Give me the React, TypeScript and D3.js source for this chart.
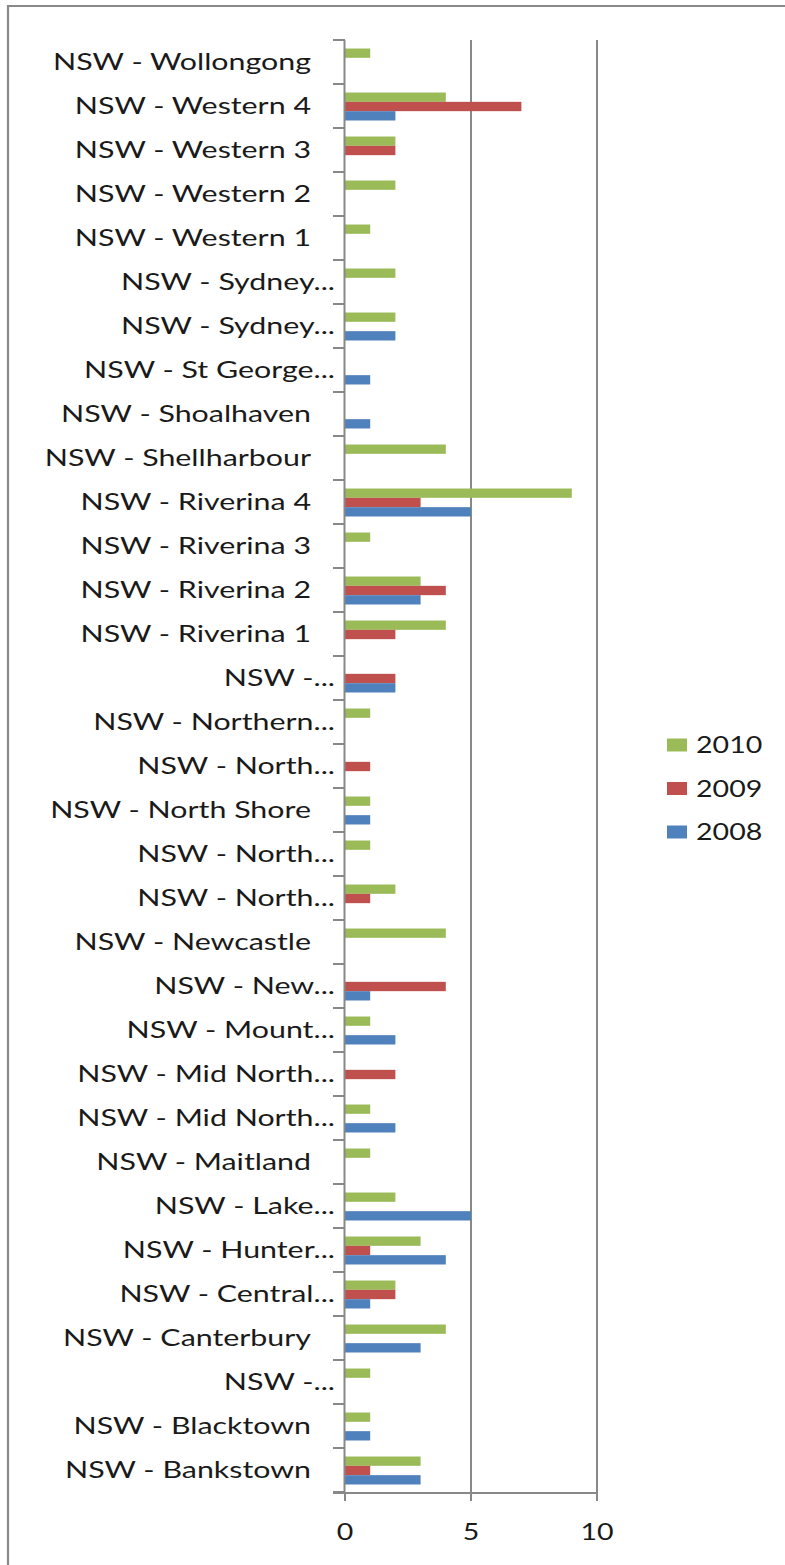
import React from "react";
import * as d3 from "d3";

// Categories listed bottom → top (as in the chart)
const categories = [
  "NSW - Bankstown",
  "NSW - Blacktown",
  "NSW -...",
  "NSW - Canterbury",
  "NSW - Central...",
  "NSW - Hunter...",
  "NSW - Lake...",
  "NSW - Maitland",
  "NSW - Mid North...",
  "NSW - Mid North...",
  "NSW - Mount...",
  "NSW - New...",
  "NSW - Newcastle",
  "NSW - North...",
  "NSW - North...",
  "NSW - North Shore",
  "NSW - North...",
  "NSW - Northern...",
  "NSW -...",
  "NSW - Riverina 1",
  "NSW - Riverina 2",
  "NSW - Riverina 3",
  "NSW - Riverina 4",
  "NSW - Shellharbour",
  "NSW - Shoalhaven",
  "NSW - St George...",
  "NSW - Sydney...",
  "NSW - Sydney...",
  "NSW - Western 1",
  "NSW - Western 2",
  "NSW - Western 3",
  "NSW - Western 4",
  "NSW - Wollongong",
];

const values2010 = [3, 1, 1, 4, 2, 3, 2, 1, 1, 0, 1, 0, 4, 2, 1, 1, 0, 1, 0, 4, 3, 1, 9, 4, 0, 0, 2, 2, 1, 2, 2, 4, 1];
const values2009 = [1, 0, 0, 0, 2, 1, 0, 0, 0, 2, 0, 4, 0, 1, 0, 0, 1, 0, 2, 2, 4, 0, 3, 0, 0, 0, 0, 0, 0, 0, 2, 7, 0];
const values2008 = [3, 1, 0, 3, 1, 4, 5, 0, 2, 0, 2, 1, 0, 0, 0, 1, 0, 0, 2, 0, 3, 0, 5, 0, 1, 1, 2, 0, 0, 0, 0, 2, 0];

const seriesNames = ["2010", "2009", "2008"];
const seriesColors = ["#9BBB59", "#C0504D", "#4F81BD"];
const xTicks = [0, 5, 10];

const W = 785;
const H = 1565;
const FONT = "Lato, 'Open Sans', sans-serif";
const TEXT_SX = 1.35;
const NUM_SX = 1.27;
const TEXT_COLOR = "#1a1a1a";

export default function App() {
  const n = categories.length;
  const series = [values2010, values2009, values2008];

  const x = d3.scaleLinear().domain([0, 10]).range([345, 597]);
  const y = d3
    .scaleBand<number>()
    .domain(d3.range(n).reverse())
    .range([40, 1492])
    .padding(0);
  const inner = d3
    .scaleBand<string>()
    .domain(seriesNames)
    .range([8.5, 36.5])
    .padding(0);

  const bw = y.bandwidth();
  const axisColor = "#888888";
  const plotTop = y.range()[0];
  const plotBottom = y.range()[1];
  const boundaries = d3.range(n + 1).map((i) => plotTop + i * bw);

  return (
    <svg
      width={W}
      height={H}
      style={{ position: "absolute", left: 0, top: 0, background: "#fff" }}
    >
      <rect x={0} y={0} width={W} height={H} fill="#fff" />
      {/* chart frame */}
      <path d={`M8,${H + 5} L8,6 L${W + 5},6`} fill="none" stroke="#898989" strokeWidth={2.2} />

      {/* gridlines */}
      {xTicks.slice(1).map((t) => (
        <line key={"g" + t} x1={x(t)} x2={x(t)} y1={plotTop} y2={plotBottom} stroke={axisColor} strokeWidth={2} />
      ))}

      {/* bars */}
      {series.map((vals, si) =>
        vals.map((v, i) =>
          v > 0 ? (
            <rect
              key={`b${si}-${i}`}
              x={x(0)}
              y={(y(i) as number) + (inner(seriesNames[si]) as number)}
              width={x(v) - x(0)}
              height={inner.bandwidth()}
              fill={seriesColors[si]}
            />
          ) : null
        )
      )}

      {/* category axis */}
      <line x1={344.5} x2={344.5} y1={plotTop} y2={plotBottom + 1} stroke={axisColor} strokeWidth={2} />
      {boundaries.map((b, i) => (
        <line key={"t" + i} x1={333} x2={345} y1={b} y2={b} stroke={axisColor} strokeWidth={2} />
      ))}

      {/* value axis */}
      <line x1={333} x2={597} y1={plotBottom + 1} y2={plotBottom + 1} stroke={axisColor} strokeWidth={2} />
      {xTicks.map((t) => (
        <line key={"xt" + t} x1={x(t)} x2={x(t)} y1={plotBottom} y2={plotBottom + 9} stroke={axisColor} strokeWidth={2} />
      ))}
      {xTicks.map((t) => (
        <text
          key={"xl" + t}
          transform={`translate(${x(t)},1540) scale(${NUM_SX},1)`}
          textAnchor="middle"
          fontFamily={FONT}
          fontSize={22.5}
          fill={TEXT_COLOR}
        >
          {t}
        </text>
      ))}

      {/* category labels */}
      {categories.map((c, i) => {
        const cy = (y(i) as number) + bw / 2;
        const xe = c.endsWith("...") ? 335 : 311;
        return (
          <text
            key={"c" + i}
            transform={`translate(${xe},${cy + 8}) scale(${TEXT_SX},1)`}
            textAnchor="end"
            fontFamily={FONT}
            fontSize={22.5}
            fill={TEXT_COLOR}
          >
            {c}
          </text>
        );
      })}

      {/* legend */}
      {seriesNames.map((s, si) => {
        const cy = 745 + si * 43.5;
        return (
          <g key={"l" + s}>
            <rect x={667} y={cy - 6.5} width={20} height={13} fill={seriesColors[si]} />
            <text
              transform={`translate(696,${cy + 8}) scale(${NUM_SX},1)`}
              fontFamily={FONT}
              fontSize={22.5}
              fill={TEXT_COLOR}
            >
              {s}
            </text>
          </g>
        );
      })}
    </svg>
  );
}
